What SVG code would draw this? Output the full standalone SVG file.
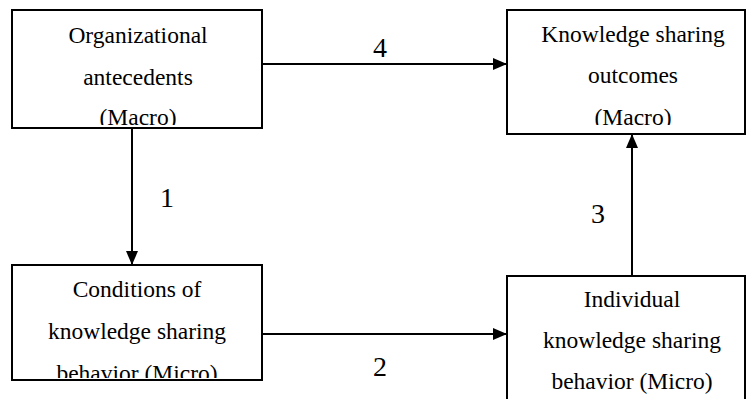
<svg xmlns="http://www.w3.org/2000/svg" width="748" height="399" viewBox="0 0 748 399">
<style>
.box{fill:#fff;stroke:#000;stroke-width:2}
.t{font-family:"Liberation Serif","Times New Roman",serif;font-size:23.5px;fill:#000;text-anchor:middle}
.n{font-family:"Liberation Serif","Times New Roman",serif;font-size:28px;fill:#000;text-anchor:middle}
.c{stroke:#000;stroke-width:2;fill:none}
</style>
<defs>
<marker id="ah" markerWidth="14" markerHeight="12" refX="14" refY="6" orient="auto" markerUnits="userSpaceOnUse">
<path d="M0,0 L14,6 L0,12 Z" fill="#000"/>
</marker>
<clipPath id="c1"><rect x="12" y="10" width="250" height="115"/></clipPath>
<clipPath id="c2"><rect x="507" y="10" width="238" height="115"/></clipPath>
<clipPath id="c3"><rect x="12" y="265" width="250" height="113"/></clipPath>
</defs>
<g id="n1">
<rect class="box" x="12" y="10" width="250" height="118"/>
<g clip-path="url(#c1)">
<text class="t" x="138" y="43">Organizational</text>
<text class="t" x="138" y="85">antecedents</text>
<text class="t" x="138" y="125">(Macro)</text>
</g>
</g>
<g id="n2">
<rect class="box" x="507" y="10" width="238" height="124"/>
<g clip-path="url(#c2)">
<text class="t" x="633" y="42">Knowledge sharing</text>
<text class="t" x="633" y="83">outcomes</text>
<text class="t" x="633" y="125">(Macro)</text>
</g>
</g>
<g id="n3">
<rect class="box" x="12" y="265" width="250" height="115"/>
<g clip-path="url(#c3)">
<text class="t" x="137" y="297">Conditions of</text>
<text class="t" x="137" y="339">knowledge sharing</text>
<text class="t" x="137" y="381">behavior (Micro)</text>
</g>
</g>
<g id="n4">
<rect class="box" x="507" y="276" width="238" height="140"/>
<text class="t" x="632" y="307">Individual</text>
<text class="t" x="632" y="348">knowledge sharing</text>
<text class="t" x="632" y="389">behavior (Micro)</text>
</g>
<g id="connectors">
<line class="c" x1="262" y1="64" x2="507" y2="64" marker-end="url(#ah)"/>
<line class="c" x1="132" y1="128" x2="132" y2="265" marker-end="url(#ah)"/>
<line class="c" x1="262" y1="334" x2="507" y2="334" marker-end="url(#ah)"/>
<line class="c" x1="632" y1="276" x2="632" y2="134" marker-end="url(#ah)"/>
<text class="n" x="380" y="57">4</text>
<text class="n" x="167" y="207">1</text>
<text class="n" x="380" y="376">2</text>
<text class="n" x="598" y="223">3</text>
</g>
</svg>
